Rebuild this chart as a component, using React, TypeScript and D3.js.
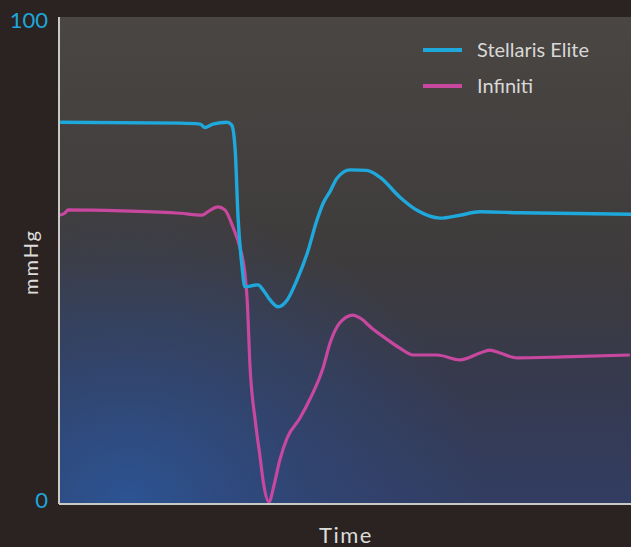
import React from "react";
import * as d3 from "d3";

const W = 631;
const H = 547;

const yTicks = [0, 100];
const seriesNames = ["Stellaris Elite", "Infiniti"];
const seriesColors = ["#1ea8dc", "#c8479f"];

const stellarisT = [0.2, 21.2, 24.7, 25.5, 26.9, 29.4, 30.2, 30.8, 31.3, 32.0, 32.5, 34.8, 35.7, 36.9, 38.3, 39.9, 41.6, 43.4, 45.1, 46.2, 47.4, 48.6, 50.9, 53.8, 56.1, 59.6, 62.6, 66.6, 70.1, 73.6, 80.6, 100];
const stellarisV = [78.4, 78.2, 78.0, 77.3, 78.0, 78.4, 77.8, 72.7, 58.9, 48.7, 44.6, 45.0, 43.9, 41.9, 40.5, 41.9, 46.0, 51.5, 58.3, 61.8, 64.2, 66.9, 68.6, 68.5, 67.1, 63.0, 60.3, 58.7, 59.3, 60.0, 59.8, 59.5];

const infinitiT = [0, 1.0, 1.6, 11.0, 21.2, 25.0, 26.0, 27.8, 29.0, 30.4, 31.6, 32.5, 32.9, 33.4, 34.3, 35.1, 35.8, 36.7, 37.6, 38.6, 39.9, 42.1, 43.9, 46.2, 47.4, 49.1, 51.4, 52.6, 54.7, 57.0, 59.6, 61.9, 66.1, 70.1, 73.6, 75.3, 77.1, 80.1, 88.1, 99.8];
const infinitiV = [59.3, 59.7, 60.4, 60.2, 59.7, 59.3, 60.0, 61.0, 60.4, 56.9, 52.8, 47.4, 41.9, 28.1, 17.2, 10.1, 3.9, 0.4, 3.9, 9.0, 13.6, 17.6, 21.6, 28.1, 33.1, 37.2, 38.8, 38.2, 36.1, 34.1, 32.0, 30.6, 30.6, 29.6, 31.0, 31.6, 31.0, 30.0, 30.2, 30.6];

export default function App() {
  const left = 59, right = 631, top = 17, bottom = 504;
  const x = d3.scaleLinear().domain([0, 100]).range([left, right]);
  const y = d3.scaleLinear().domain([0, 100]).range([bottom, top]);
  const line = d3
    .line<[number, number]>()
    .x((d) => x(d[0]))
    .y((d) => y(d[1]))
    .curve(d3.curveMonotoneX);
  const s1: [number, number][] = stellarisT.map((t, i) => [t, stellarisV[i]]);
  const s2: [number, number][] = infinitiT.map((t, i) => [t, infinitiV[i]]);
  const font = "Lato, 'Open Sans', sans-serif";
  return (
    <svg width={W} height={H} style={{ position: "fixed", left: 0, top: 0, display: "block" }}>
      <defs>
        <linearGradient id="bgv" x1="0" y1="0" x2="0" y2="1">
          <stop offset="0" stopColor="#4a4643" />
          <stop offset="0.5" stopColor="#3e3b3c" />
          <stop offset="0.75" stopColor="#363a4e" />
          <stop offset="1" stopColor="#323d62" />
        </linearGradient>
        <radialGradient id="glow" cx="0.12" cy="1" r="0.62" gradientUnits="objectBoundingBox">
          <stop offset="0" stopColor="#2c5596" stopOpacity="0.95" />
          <stop offset="0.55" stopColor="#2e4c84" stopOpacity="0.45" />
          <stop offset="1" stopColor="#2e4c84" stopOpacity="0" />
        </radialGradient>
      </defs>
      <rect x={0} y={0} width={W} height={H} fill="#2a2321" />
      <rect x={left} y={top} width={right - left} height={bottom - top} fill="url(#bgv)" />
      <rect x={left} y={top} width={right - left} height={bottom - top} fill="url(#glow)" />
      <path d={line(s2) || ""} fill="none" stroke={seriesColors[1]} strokeWidth={3.2} strokeLinejoin="round" />
      <path d={line(s1) || ""} fill="none" stroke={seriesColors[0]} strokeWidth={3.4} strokeLinejoin="round" />
      <line x1={left} y1={top} x2={left} y2={bottom} stroke="#c9c9c6" strokeWidth={2} />
      <line x1={left} y1={bottom} x2={right} y2={bottom} stroke="#c9c9c6" strokeWidth={2} />
      {yTicks.map((t) => (
        <text key={t} x={48} y={y(t)} dy={t === 100 ? "0.5em" : "0.2em"} textAnchor="end" fill="#1ea6da" fontFamily={font} fontSize={22}>
          {t}
        </text>
      ))}
      <text transform={`translate(38,262) rotate(-90)`} textAnchor="middle" fill="#dcdcda" fontFamily={font} fontSize={20} letterSpacing={2}>
        mmHg
      </text>
      <text x={346} y={543} textAnchor="middle" fill="#dcdcda" fontFamily={font} fontSize={22} letterSpacing={1.5}>
        Time
      </text>
      {seriesNames.map((n, i) => (
        <g key={n}>
          <line x1={423} x2={462} y1={50 + i * 36} y2={50 + i * 36} stroke={seriesColors[i]} strokeWidth={4} />
          <text x={477} y={50 + i * 36} dy="0.35em" fill="#d8d8d6" fontFamily={font} fontSize={20}>
            {n}
          </text>
        </g>
      ))}
    </svg>
  );
}
